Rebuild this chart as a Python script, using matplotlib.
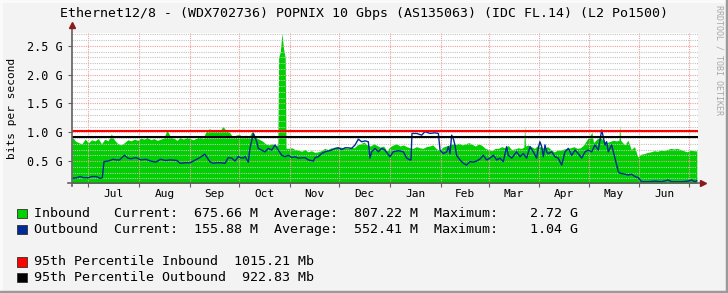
import numpy as np
import matplotlib
matplotlib.use("Agg")
import matplotlib.pyplot as plt
from matplotlib.patches import Rectangle
from matplotlib.lines import Line2D

# data (days counted from 2023-06-21, values in Gbit/s)
start = np.datetime64("2023-06-21")
months = ["Jul", "Aug", "Sep", "Oct", "Nov", "Dec", "Jan", "Feb", "Mar", "Apr", "May", "Jun"]

in_day = [0, 2, 4, 6, 8, 10, 12, 14, 16, 18, 20, 22, 24, 26, 28, 30, 32, 34, 36, 38,
          40, 42, 44, 46, 48, 50, 52, 54, 56, 58, 60, 62, 64, 66, 68, 70, 72, 74, 76, 78,
          80, 82, 84, 86, 88, 90, 92, 94, 96, 98, 100, 102, 104, 106, 108, 110, 112, 114,
          116, 118, 120, 122, 124, 125.5, 126, 127, 128, 129, 130, 130.5, 132, 134, 136,
          138, 140, 142, 144, 146, 148, 150, 152, 154, 156, 158, 160, 162, 164, 166, 168,
          170, 172, 174, 176, 178, 180, 182, 184, 186, 188, 190, 192, 194, 196, 198, 200,
          202, 204, 206, 208, 210, 212, 214, 216, 218, 220, 222, 224, 226, 228, 230, 232,
          234, 236, 238, 240, 242, 244, 246, 248, 250, 252, 254, 256, 258, 260, 262, 264,
          266, 268, 270, 272, 274, 275.5, 276, 276.5, 278, 280, 282, 284, 286, 288, 290,
          292, 294, 296, 298, 300, 302, 304, 306, 308, 310, 312, 314, 316, 317, 318, 320,
          322, 324, 326, 328, 330, 332, 333.5, 334, 334.5, 337, 339, 341, 343, 345, 347,
          349, 351, 353, 355, 357, 359, 361, 363, 365, 367, 369, 371, 373, 375, 377, 379, 381]
in_val = [0.93, 0.85, 0.82, 0.80, 0.88, 0.82, 0.87, 0.85, 0.89, 0.80, 0.88, 0.85, 0.97, 0.86,
          0.80, 0.78, 0.82, 0.87, 0.85, 0.88, 0.86, 0.90, 0.88, 0.91, 0.87, 0.89, 0.86, 0.88,
          0.90, 1.04, 0.92, 0.90, 0.86, 0.91, 0.88, 0.92, 0.89, 0.87, 0.90, 0.93, 0.89, 1.04,
          1.06, 1.02, 1.05, 1.01, 1.10, 1.03, 1.00, 0.92, 0.95, 0.96, 0.93, 0.95, 0.92, 1.03,
          0.91, 0.88, 0.85, 0.80, 0.78, 0.80, 0.77, 0.78, 2.30, 2.40, 2.72, 2.45, 2.30, 0.72,
          0.72, 0.73, 0.70, 0.69, 0.67, 0.70, 0.66, 0.68, 0.65, 0.66, 0.68, 0.72, 0.70, 0.73,
          0.72, 0.75, 0.74, 0.73, 0.72, 0.74, 0.73, 0.78, 0.80, 0.83, 0.78, 0.76, 0.80, 0.77,
          0.74, 0.76, 0.68, 0.75, 0.78, 0.80, 0.76, 0.78, 0.75, 0.73, 0.72, 0.75, 0.73, 0.72,
          0.75, 0.76, 0.78, 0.72, 0.68, 0.74, 0.76, 0.78, 0.80, 0.79, 0.81, 0.78, 0.80, 0.82,
          0.79, 0.76, 0.80, 0.77, 0.72, 0.70, 0.68, 0.72, 0.72, 0.75, 0.73, 0.77, 0.70, 0.71,
          0.73, 0.72, 0.74, 1.12, 0.76, 0.78, 0.75, 0.72, 0.77, 0.74, 0.72, 0.75, 0.70, 0.66,
          0.69, 0.69, 0.71, 0.72, 0.73, 0.75, 0.72, 0.73, 0.78, 0.87, 0.95, 1.00, 0.82, 0.88,
          0.92, 0.86, 0.82, 0.84, 0.86, 0.85, 0.86, 1.12, 0.86, 0.78, 0.86, 0.70, 0.75, 0.57,
          0.62, 0.63, 0.65, 0.66, 0.68, 0.67, 0.69, 0.68, 0.70, 0.72, 0.71, 0.72, 0.70, 0.68,
          0.66, 0.69, 0.68, 0.676]

out_day = [0, 3, 5, 7, 10, 12, 15, 17, 18.5, 19.5, 22, 25, 27, 29, 32, 34, 36, 39, 42, 45,
           48, 51, 54, 57, 60, 64, 66, 69, 72, 76, 78, 80, 81, 84, 86, 88, 91, 93.3, 95.3,
           97.4, 99.4, 101.4, 102.4, 104.5, 105.5, 107.5, 108.5, 110.6, 112.6, 113.6, 115.7,
           117.7, 119.7, 121.8, 123.8, 125.8, 127.9, 129.9, 131.9, 134, 136, 138, 142, 144.1,
           147.2, 148.2, 150.2, 152.2, 154.3, 158.3, 160.4, 162.4, 164.4, 166.5, 168.5, 170.5,
           172.6, 174.6, 176.6, 178.7, 180.7, 181.7, 182.7, 184.8, 186.8, 188.8, 190.8, 193.9,
           195.9, 199, 202, 204.1, 206.1, 206.7, 207.3, 210.2, 213.2, 215.2, 218.3, 221.3,
           223.4, 224.4, 226.4, 228.5, 229.5, 230.5, 231.5, 232.5, 233.5, 234.5, 236.6, 238.6,
           240.6, 242.7, 244.7, 246.7, 248.8, 250.8, 252.8, 254.9, 256.9, 259, 261, 263, 265,
           266, 268.1, 271.1, 273.2, 275.2, 277.2, 279.3, 281.3, 283.3, 284.3, 285.3, 286.4,
           287.4, 288.4, 289.4, 290.4, 292.5, 294.5, 296.5, 298.6, 300.6, 302.6, 304.7, 306.7,
           308.7, 310.8, 312.8, 314.8, 316.9, 318.9, 320.9, 323, 325, 326, 327, 329, 331.1,
           333.1, 334.1, 337.2, 339.2, 341.2, 343.3, 345.3, 347.3, 351.4, 355.5, 359.5, 363.6,
           365.6, 371.7, 375.8, 377.8, 379.9, 381]
out_val = [0.20, 0.21, 0.23, 0.21, 0.21, 0.23, 0.23, 0.20, 0.21, 0.49, 0.50, 0.53, 0.52, 0.52,
           0.60, 0.55, 0.54, 0.56, 0.52, 0.53, 0.50, 0.48, 0.53, 0.51, 0.52, 0.51, 0.46, 0.47,
           0.47, 0.53, 0.56, 0.60, 0.62, 0.49, 0.46, 0.47, 0.47, 0.46, 0.56, 0.55, 0.50, 0.58,
           0.56, 0.55, 0.58, 0.48, 0.72, 0.98, 0.84, 0.72, 0.69, 0.66, 0.72, 0.69, 0.78, 0.69,
           0.60, 0.575, 0.60, 0.56, 0.575, 0.55, 0.56, 0.52, 0.50, 0.56, 0.575, 0.63, 0.66,
           0.69, 0.72, 0.73, 0.70, 0.73, 0.73, 0.72, 0.78, 0.88, 0.835, 0.85, 0.835, 0.55, 0.66,
           0.72, 0.66, 0.72, 0.69, 0.575, 0.66, 0.68, 0.66, 0.55, 0.52, 0.52, 0.98, 0.98, 0.95,
           1.01, 0.98, 0.99, 0.98, 0.69, 0.63, 0.66, 0.75, 0.63, 0.95, 0.89, 0.78, 0.60, 0.52,
           0.46, 0.43, 0.49, 0.48, 0.50, 0.535, 0.60, 0.52, 0.55, 0.60, 0.52, 0.55, 0.49, 0.75,
           0.60, 0.55, 0.66, 0.575, 0.63, 0.55, 0.75, 0.66, 0.55, 0.72, 0.835, 0.75, 0.575,
           0.78, 0.66, 0.63, 0.66, 0.575, 0.55, 0.43, 0.66, 0.72, 0.60, 0.69, 0.63, 0.55, 0.66,
           0.69, 0.66, 0.78, 0.69, 1.04, 0.78, 0.835, 0.66, 0.78, 0.55, 0.315, 0.29, 0.27,
           0.257, 0.27, 0.23, 0.21, 0.14, 0.14, 0.15, 0.14, 0.17, 0.14, 0.14, 0.15, 0.17, 0.14,
           0.156]

p95_in = 1.01521
p95_out = 0.92283

yticks = [0.5, 1.0, 1.5, 2.0, 2.5]
ytick_labels = ["0.5 G", "1.0 G", "1.5 G", "2.0 G", "2.5 G"]

title = "Ethernet12/8 - (WDX702736) POPNIX 10 Gbps (AS135063) (IDC FL.14) (L2 Po1500)"
legend_rows = [
    ("#00CF00", "Inbound   Current:  675.66 M  Average:  807.22 M  Maximum:    2.72 G"),
    ("#002A97", "Outbound  Current:  155.88 M  Average:  552.41 M  Maximum:    1.04 G"),
    ("#FF0000", "95th Percentile Inbound  1015.21 Mb"),
    ("#000000", "95th Percentile Outbound  922.83 Mb"),
]
legend_y = [213.6, 229.6, 261.8, 277.6]

W, H = 728, 293
MONO = "DejaVu Sans Mono"


def fx(x):
    return x / W


def fy(y):
    return 1 - y / H


fig = plt.figure(figsize=(W / 100, H / 100), dpi=100, facecolor="#f3f3f3")
ax = fig.add_axes([fx(72), fy(183.3), fx(698) - fx(72), fy(33.3) - fy(183.3)])
ax.set_facecolor("white")

ax.fill_between(in_day, 0, in_val, color="#00CF00", lw=0, zorder=1)
ax.plot(out_day, out_val, color="#002A97", lw=1, zorder=3)
ax.axhline(p95_in, color="#FF0000", lw=1.5, zorder=4)
ax.axhline(p95_out, color="#000000", lw=1.5, zorder=4)

ax.set_xlim(0, (698 - 72) / 1.64)
ax.set_ylim(0.113, 2.72)

# month grid at month starts, labels in the middle of each month
mstart = np.arange("2023-07", "2024-08", dtype="datetime64[M]").astype("datetime64[D]")
moff = (mstart - start).astype(float)
ax.set_xticks(moff)
ax.set_xticklabels([])
ax.set_xticks((moff[:-1] + moff[1:]) / 2, minor=True)
ax.set_xticklabels(months, minor=True, fontfamily=MONO, fontsize=8)
ax.tick_params(axis="x", which="minor", length=0, pad=4)
ax.tick_params(axis="x", which="major", length=3, color="#606060")

ax.set_yticks(yticks)
ax.set_yticklabels(ytick_labels, fontfamily=MONO, fontsize=8.5)
ax.set_yticks(np.arange(0.2, 2.75, 0.1), minor=True)
ax.tick_params(axis="y", which="major", length=3, color="#606060", pad=4)
ax.tick_params(axis="y", which="minor", length=0)

ax.set_axisbelow("line")
ax.grid(which="major", color="#ee9f9f", lw=0.8, ls=(0, (1, 1)))
ax.grid(which="minor", axis="y", color="#c4c4c4", lw=0.8, ls=(0, (1, 1)))

for s in ax.spines.values():
    s.set_visible(False)

# axes with arrows
ax.plot([-0.007, 1.004], [0, 0], transform=ax.transAxes, color="#606060", lw=1.2,
        clip_on=False, zorder=5)
ax.plot([0, 0], [-0.015, 1.05], transform=ax.transAxes, color="#606060", lw=1.2,
        clip_on=False, zorder=5)
ax.plot([1.008], [0], marker=">", ms=5, color="#8b1a1a", transform=ax.transAxes,
        clip_on=False, zorder=6)
ax.plot([0], [1.055], marker="^", ms=5, color="#8b1a1a", transform=ax.transAxes,
        clip_on=False, zorder=6)

fig.text(0.5, fy(14), title, ha="center", va="center", fontfamily=MONO, fontsize=9.5)
fig.text(fx(12), fy(108), "bits per second", rotation=90, ha="center", va="center",
         fontfamily=MONO, fontsize=8)
fig.text(fx(719), fy(5), "RRDTOOL / TOBI OETIKER", rotation=270, ha="center", va="top",
         fontfamily=MONO, fontsize=6, color="#a8a8a8")

for (col, txt), y in zip(legend_rows, legend_y):
    fig.add_artist(Rectangle((fx(17.3), fy(y + 4.7)), fx(10), 9.4 / H, facecolor=col,
                             edgecolor="#303030", lw=0.6, transform=fig.transFigure))
    fig.text(fx(34.5), fy(y), txt, ha="left", va="center", fontfamily=MONO, fontsize=9.65)

# 3d-ish frame around the canvas
fig.add_artist(Line2D([0, 1], [fy(1), fy(1)], color="#fbfbfb", lw=2, transform=fig.transFigure))
fig.add_artist(Line2D([fx(1), fx(1)], [0, 1], color="#fbfbfb", lw=2, transform=fig.transFigure))
fig.add_artist(Line2D([0, 1], [fy(292), fy(292)], color="#9a9a9a", lw=2.5, transform=fig.transFigure))
fig.add_artist(Line2D([fx(727), fx(727)], [0, 1], color="#9a9a9a", lw=2.5, transform=fig.transFigure))

fig.savefig("out.png", dpi=100, facecolor=fig.get_facecolor())
